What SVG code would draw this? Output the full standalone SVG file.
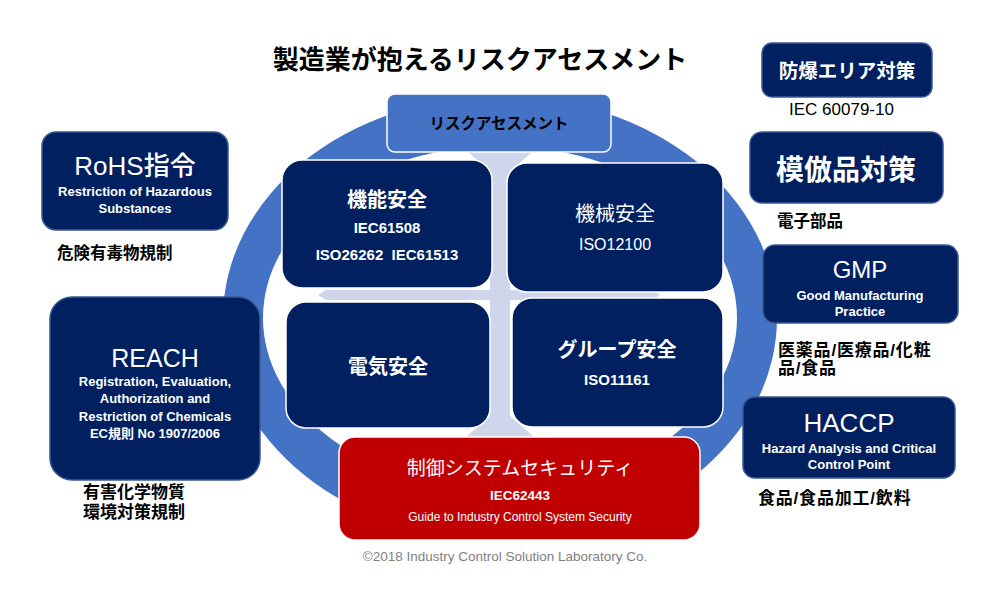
<svg xmlns="http://www.w3.org/2000/svg" width="1000" height="600" viewBox="0 0 1000 600">
<style>
text{font-family:"Liberation Sans","Noto Sans CJK JP",sans-serif}
.w{fill:#fff}
.k{fill:#000}
.c{text-anchor:middle}
.b{font-weight:bold}
.navy{fill:#002060;stroke:#3A5894;stroke-width:1.5}
.inner{fill:#002060;stroke:#fff;stroke-width:1.5}
</style>
<rect width="1000" height="600" fill="#fff"/>
<text x="480" y="69" class="c b k" font-size="26">製造業が抱えるリスクアセスメント</text>

<g id="ring">
<path d="M223,318 a277,222 0 1,0 554,0 a277,222 0 1,0 -554,0 Z M263,318 a237,172 0 1,0 474,0 a237,172 0 1,0 -474,0 Z" fill="#4472C4" fill-rule="evenodd"/>
</g>

<g id="connectors">
<path d="M466,150 L534,150 L510,172 L510,416 L534,437 L466,437 L490,416 L490,172 Z" fill="#CFD5EA"/>
<path d="M318,295 L326,290 L652,290 L660,295 L652,300 L326,300 Z" fill="#CFD5EA"/>
</g>

<g id="kinou">
<rect x="282" y="160" width="210" height="128" rx="20" class="inner"/>
<text x="387" y="207" class="c b w" font-size="20">機能安全</text>
<text x="387" y="233" class="c b w" font-size="15">IEC61508</text>
<text x="387" y="260" class="c b w" font-size="15" xml:space="preserve">ISO26262  IEC61513</text>
</g>
<g id="kikai">
<rect x="507" y="163" width="216" height="129" rx="20" class="inner"/>
<text x="615" y="221" class="c w" font-size="20">機械安全</text>
<text x="615" y="250" class="c w" font-size="16">ISO12100</text>
</g>
<g id="denki">
<rect x="286" y="302" width="204" height="126" rx="20" class="inner"/>
<text x="388" y="374" class="c b w" font-size="20">電気安全</text>
</g>
<g id="group">
<rect x="512" y="298" width="211" height="129" rx="20" class="inner"/>
<text x="617" y="357" class="c b w" font-size="20">グループ安全</text>
<text x="617" y="385" class="c b w" font-size="15">ISO11161</text>
</g>
<g id="risk">
<rect x="387" y="94" width="224" height="58" rx="8" fill="#4472C4" stroke="#fff" stroke-width="1.5"/>
<text x="499" y="129" class="c b k" font-size="15.5">リスクアセスメント</text>
</g>
<g id="security">
<rect x="339" y="437" width="361" height="103" rx="16" fill="#C00000" stroke="#fff" stroke-width="1.5"/>
<text x="520" y="475" class="c w" font-size="19">制御システムセキュリティ</text>
<text x="520" y="500" class="c b w" font-size="13.5">IEC62443</text>
<text x="520" y="521" class="c w" font-size="12">Guide to Industry Control System Security</text>
</g>

<g id="rohs">
<rect x="42" y="132" width="186" height="98" rx="14" class="navy"/>
<text x="135" y="175" class="c w" font-size="26" font-weight="500">RoHS指令</text>
<text x="135" y="196" class="c b w" font-size="13">Restriction of Hazardous</text>
<text x="135" y="213" class="c b w" font-size="13">Substances</text>
<text x="57" y="259" class="b k" font-size="16.5">危険有毒物規制</text>
</g>
<g id="reach">
<rect x="50" y="297" width="210" height="183" rx="22" class="navy"/>
<text x="155" y="367" class="c w" font-size="25">REACH</text>
<text x="155" y="386" class="c b w" font-size="13">Registration, Evaluation,</text>
<text x="155" y="403" class="c b w" font-size="13">Authorization and</text>
<text x="155" y="421" class="c b w" font-size="13">Restriction of Chemicals</text>
<text x="155" y="438" class="c b w" font-size="13">EC規則 No 1907/2006</text>
<text x="83" y="498" class="b k" font-size="17">有害化学物質</text>
<text x="83" y="518" class="b k" font-size="17">環境対策規制</text>
</g>
<g id="bouhaku">
<rect x="762" y="43" width="170" height="54" rx="10" class="navy"/>
<text x="847" y="78" class="c b w" font-size="19.5">防爆エリア対策</text>
<text x="789" y="115" class="k" font-size="17">IEC 60079-10</text>
</g>
<g id="mohou">
<rect x="750" y="132" width="193" height="71" rx="12" class="navy"/>
<text x="846" y="180" class="c b w" font-size="28">模倣品対策</text>
<text x="777" y="227" class="b k" font-size="16.5">電子部品</text>
</g>
<g id="gmp">
<rect x="763" y="245" width="195" height="78" rx="12" class="navy"/>
<text x="860" y="278" class="c w" font-size="24">GMP</text>
<text x="860" y="300" class="c b w" font-size="13">Good Manufacturing</text>
<text x="860" y="316" class="c b w" font-size="13">Practice</text>
<text x="778" y="356" class="b k" font-size="17" letter-spacing="0.8">医薬品/医療品/化粧</text>
<text x="778" y="374" class="b k" font-size="17" letter-spacing="0.8">品/食品</text>
</g>
<g id="haccp">
<rect x="743" y="397" width="212" height="81" rx="12" class="navy"/>
<text x="849" y="432" class="c w" font-size="26">HACCP</text>
<text x="849" y="453" class="c b w" font-size="13">Hazard Analysis and Critical</text>
<text x="849" y="469" class="c b w" font-size="13">Control Point</text>
<text x="758" y="504" class="b k" font-size="17" letter-spacing="0.8">食品/食品加工/飲料</text>
</g>

<text x="505" y="561" class="c" font-size="13.5" fill="#808080">©2018 Industry Control Solution Laboratory Co.</text>
</svg>
